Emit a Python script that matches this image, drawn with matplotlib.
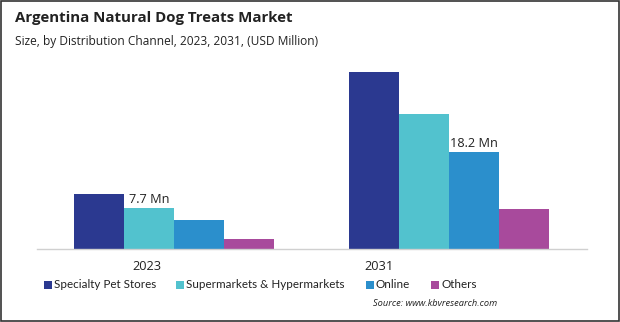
import matplotlib
matplotlib.use("Agg")
import matplotlib.pyplot as plt
from matplotlib.patches import Rectangle
import numpy as np

plt.rcParams['font.family'] = ['Open Sans', 'DejaVu Sans']

years = ["2023", "2031"]
channels = ["Specialty Pet Stores", "Supermarkets & Hypermarkets", "Online", "Others"]
specialty = [10.3, 33.0]
supermarkets = [7.7, 25.3]
online = [5.4, 18.2]
others = [1.9, 7.6]
colors = ["#2B3990", "#52C2CE", "#2B8FCC", "#A84A9C"]

# value labels: (series index, year index)
labelled = [(1, 0), (2, 1)]

W, H = 620, 322
fig = plt.figure(figsize=(W / 100, H / 100), dpi=100)

def px_x(x):
    return x / W

def px_y(y):
    return 1 - y / H

ax_left, ax_right = 36.5, 586.5
ax_top, ax_bottom = 60.0, 249.3
ax = fig.add_axes([px_x(ax_left), px_y(ax_bottom),
                   (ax_right - ax_left) / W, (ax_bottom - ax_top) / H])

series = [specialty, supermarkets, online, others]
x = np.arange(len(years))
bw = 0.182
for i, (vals, col) in enumerate(zip(series, colors)):
    pos = x + (i - 1.5) * bw
    ax.bar(pos, vals, width=bw, color=col, label=channels[i], zorder=2)
    for si, yi in labelled:
        if si == i:
            ax.text(pos[yi], vals[yi] + 0.4, f"{vals[yi]} Mn", ha="center", va="bottom",
                    fontsize=9.2, color="#222222")

ax.set_xlim(-0.5, 1.5)
ax.set_ylim(0, (ax_bottom - ax_top) / 5.36)
ax.set_yticks([])
for s in ["top", "right", "left"]:
    ax.spines[s].set_visible(False)
ax.spines["bottom"].set_color("#d0d0d0")
ax.spines["bottom"].set_linewidth(1.0)
ax.set_xticks([-0.098, 0.745], labels=years)
ax.tick_params(axis="x", length=0, pad=8, labelsize=9.2, labelcolor="#222222")

fig.text(px_x(15), px_y(18), "Argentina Natural Dog Treats Market", fontsize=10.8,
         fontweight="bold", color="#222222", va="center", ha="left")
fig.text(px_x(15), px_y(42), "Size, by Distribution Channel, 2023, 2031, (USD Million)",
         fontsize=8.6, color="#222222", va="center", ha="left")

# legend row: square swatch followed by its label
legend_x = [44, 176, 366, 431]
legend_y = 285
sw = 7.5
for lx, name, col in zip(legend_x, channels, colors):
    fig.add_artist(Rectangle((px_x(lx), px_y(legend_y + sw / 2)), sw / W, sw / H,
                             transform=fig.transFigure, facecolor=col, edgecolor="none"))
    fig.text(px_x(lx + sw + 2.5), px_y(legend_y), name, fontsize=8.4, family=["Lato", "DejaVu Sans"],
             color="#222222", va="center", ha="left")

fig.text(px_x(497), px_y(304), "Source: www.kbvresearch.com", fontsize=6.7,
         style="italic", color="#222222", va="center", ha="right")

fig.add_artist(Rectangle((0.001, 0.002), 0.997, 0.995, transform=fig.transFigure,
                         fill=False, edgecolor="#333333", linewidth=1.2))

fig.savefig("out.png", dpi=100, facecolor="white")
